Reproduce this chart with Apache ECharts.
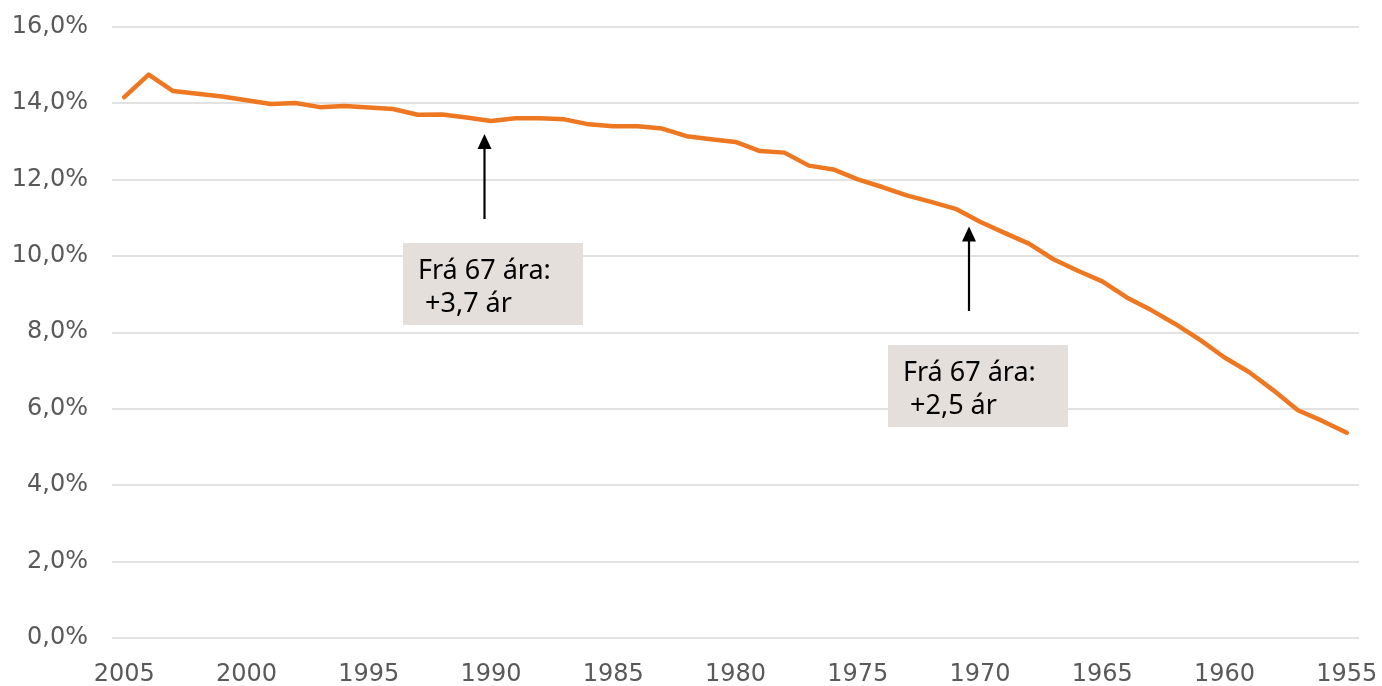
<!DOCTYPE html>
<html>
<head>
<meta charset="utf-8">
<script src="https://cdn.jsdelivr.net/npm/echarts@6/dist/echarts.min.js"></script>
<style>
    html, body { margin: 0; padding: 0; background: #fff; }
    #chart1 { width: 1382px; height: 686px; }
</style>
</head>
<body>
<div id="chart1"></div>
<script>
// fæðingarár, frá 2005 niður í 1955
var years = ['2005','2004','2003','2002','2001','2000','1999','1998','1997','1996',
             '1995','1994','1993','1992','1991','1990','1989','1988','1987','1986',
             '1985','1984','1983','1982','1981','1980','1979','1978','1977','1976',
             '1975','1974','1973','1972','1971','1970','1969','1968','1967','1966',
             '1965','1964','1963','1962','1961','1960','1959','1958','1957','1956','1955'];

var values = [14.15, 14.74, 14.31, 14.24, 14.17, 14.07, 13.97, 14.00, 13.89, 13.92,
              13.88, 13.84, 13.69, 13.70, 13.62, 13.53, 13.60, 13.60, 13.57, 13.44,
              13.39, 13.39, 13.33, 13.13, 13.05, 12.98, 12.74, 12.70, 12.36, 12.26,
              12.00, 11.80, 11.58, 11.41, 11.23, 10.89, 10.60, 10.32, 9.91, 9.61,
              9.33, 8.91, 8.58, 8.21, 7.80, 7.34, 6.96, 6.48, 5.96, 5.68, 5.37];

var yTicks = [0, 2, 4, 6, 8, 10, 12, 14, 16];

var notes = [
    ['Frá 67 ára:', ' +3,7 ár'],
    ['Frá 67 ára:', ' +2,5 ár']
];

var axisFont = 'DejaVu Sans';
var noteFont = 'Noto Sans';
var boxColor = '#E5DFDC';

function noteBox(bx, by, lines) {
    return {
        type: 'group',
        children: [
            { type: 'rect', z: 100, shape: { x: bx, y: by, width: 180, height: 82 }, style: { fill: boxColor, stroke: null } },
            { type: 'text', z: 101, x: bx + 15, y: by + 12,
              style: { text: lines.join('\n'), font: '27px "' + noteFont + '"', fill: '#000',
                       stroke: null, lineWidth: 0, lineHeight: 33 } }
        ]
    };
}

function arrow(ax, yTop, yBottom) {
    return {
        type: 'group',
        children: [
            { type: 'line', z: 100, shape: { x1: ax, y1: yBottom, x2: ax, y2: yTop + 10 }, style: { stroke: '#000', lineWidth: 2.2 } },
            { type: 'polygon', z: 100, shape: { points: [[ax, yTop], [ax - 7, yTop + 15], [ax + 7, yTop + 15]] }, style: { fill: '#000' } }
        ]
    };
}

var option1 = {
    animation: false,
    grid: { left: 112, right: 23, top: 26.5, bottom: 48, outerBoundsMode: 'none' },
    xAxis: {
        type: 'category',
        data: years,
        boundaryGap: true,
        axisLine: { show: false },
        axisTick: { show: false },
        axisLabel: {
            interval: 4,
            margin: 25,
            color: '#595959',
            fontFamily: axisFont,
            fontSize: 24
        }
    },
    yAxis: {
        type: 'value',
        min: yTicks[0],
        max: yTicks[yTicks.length - 1],
        interval: 2,
        axisLine: { show: false },
        axisTick: { show: false },
        splitLine: { lineStyle: { color: '#D9D9D9', width: 1.5 } },
        axisLabel: {
            margin: 24,
            color: '#595959',
            fontFamily: axisFont,
            fontSize: 24,
            formatter: function (v) { return v.toFixed(1).replace('.', ',') + '%'; }
        }
    },
    series: [
        {
            type: 'line',
            data: values,
            showSymbol: false,
            symbol: 'none',
            lineStyle: { color: '#EE7721', width: 4.5, cap: 'round', join: 'round' },
            emphasis: { disabled: true },
            z: 3
        }
    ],
    graphic: [
        arrow(484.5, 134, 219),
        noteBox(403, 243, notes[0]),
        arrow(969, 226.5, 311),
        noteBox(888, 345, notes[1])
    ]
};

echarts.init(document.getElementById('chart1')).setOption(option1);
</script>
</body>
</html>
